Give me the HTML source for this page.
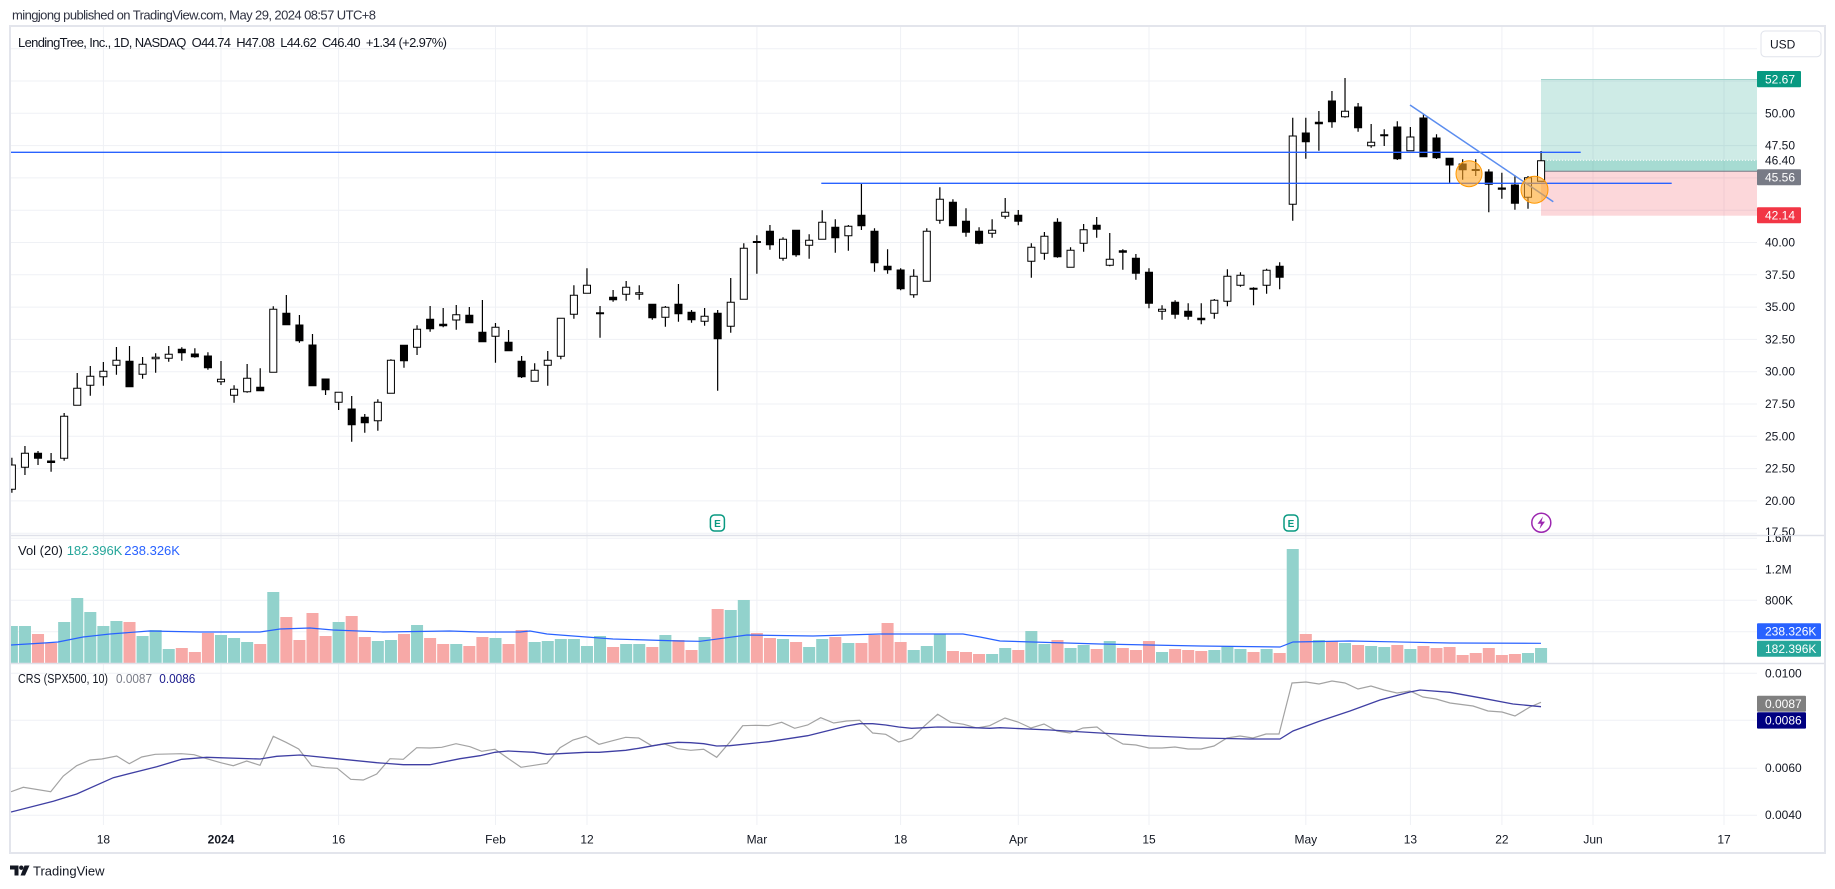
<!DOCTYPE html>
<html><head><meta charset="utf-8"><style>
html,body{margin:0;padding:0;background:#fff}
svg{display:block}
text{font-family:"Liberation Sans",sans-serif}
.ns{vector-effect:non-scaling-stroke}
</style></head><body>
<svg width="1835" height="889" viewBox="0 0 1835 889" xmlns="http://www.w3.org/2000/svg">
<defs>
<clipPath id="cm"><rect x="11" y="27" width="1746" height="508"/></clipPath>
<clipPath id="cv"><rect x="11" y="536" width="1746" height="127"/></clipPath>
<clipPath id="cc"><rect x="11" y="664" width="1746" height="161"/></clipPath>
<clipPath id="pa"><rect x="1757" y="27" width="67" height="508"/></clipPath>
<clipPath id="va"><rect x="1757" y="536" width="67" height="127"/></clipPath>
</defs>
<rect x="0" y="0" width="1835" height="889" fill="#fff"/>

<!-- grid -->
<g stroke="#eff1f5" stroke-width="1">
<path d="M11 48.7H1757M11 81H1757M11 113.3H1757M11 145.6H1757M11 177.9H1757M11 210.2H1757M11 242.5H1757M11 274.8H1757M11 307.1H1757M11 339.4H1757M11 371.7H1757M11 404H1757M11 436.3H1757M11 468.6H1757M11 500.9H1757M11 533.2H1757"/>
<path d="M11 538.3H1757M11 569.3H1757M11 600.3H1757M11 631.7H1757"/>
<path d="M11 673.3H1757M11 720.3H1757M11 768.3H1757M11 815.3H1757"/>
<path d="M103.4 27V825M221 27V825M338.6 27V825M495.5 27V825M587 27V825M756.9 27V825M900.6 27V825M1018.3 27V825M1149 27V825M1305.8 27V825M1410.4 27V825M1501.9 27V825M1593 27V825M1724 27V825"/>
</g>

<!-- position tool -->
<g clip-path="url(#cm)">
<rect x="1541" y="79.3" width="216" height="92" fill="rgba(8,153,129,0.2)"/>
<rect x="1541" y="160.3" width="216" height="11" fill="rgba(8,153,129,0.2)"/>
<rect x="1541" y="171.3" width="216" height="44.4" fill="rgba(242,54,69,0.2)"/>
<path d="M1541 79.5H1757" stroke="#9fd3cb" stroke-width="1"/>
<path d="M1541 171.3H1757" stroke="#787b86" stroke-width="1"/>
<path d="M1541 160.3H1757" stroke="#fff" stroke-width="1" stroke-dasharray="1 2"/>

<!-- candles -->
<g transform="translate(221 0) scale(13.07 1)">
<path class="ns" vector-effect="non-scaling-stroke" fill="none" stroke="#000" stroke-width="1.2" d="M-16 457.7V492.7M-15 446V475M-14 451V465M-13 453V471.7M-12 413V460.7M-11 373V405.3M-10 366V395.7M-9 362V385.7M-8 347V374.7M-7 346V386.7M-6 357V378.7M-5 353.3V372.7M-4 346V361.7M-3 347.3V360.7M-2 348.3V357.7M-1 352.3V369.7M0 361V385M1 385.3V402.7M2 364V392.7M3 368.3V390.7M4 306.3V372.3M5 295V324.7M6 315V342.7M7 334V385.7M8 379V395M9 392.3V410M10 396V441.7M11 414V432.7M12 399.3V430.7M13 359.3V393.3M14 345.3V367.7M15 325.3V355M16 306V331.7M17 308V327.3M18 305V329.7M19 307V322.7M20 300V341.7M21 323V362.7M22 330V350.7M23 356V378M24 363.3V381.3M25 351V385.7M26 318.3V359.3M27 285.3V318.7M28 268.3V293.3M29 306V337.7M30 290V301.7M31 281V300.7M32 285.3V299.7M33 304.3V319.7M34 306V326.7M35 284V321.7M36 310V322.7M37 308V325.7M38 310V390.7M39 278V332.7M40 243.3V299.3M41 235.3V273.7M42 225V249.7M43 237.3V260.7M44 230.3V256.7M45 234.3V258.7M46 210.3V239.3M47 219.3V252.7M48 225V250.7M49 184V230M50 228.3V271.7M51 249.3V273.7M52 268.3V290.3M53 269.3V297.7M54 228.3V281.3M55 187.3V223.7M56 199.3V225.7M57 208.3V236.7M58 227.3V244.3M59 219.3V237.7M60 198V218.7M61 210V225.3M62 243.3V277.7M63 232V259.7M64 218.3V257.7M65 247.3V267.3M66 224V251.7M67 217V237.7M68 233V266.3M69 249.3V269.7M70 254V279.7M71 268.3V308.3M72 305.3V319.7M73 300.3V318.7M74 303.3V319.7M75 303.3V324.3M76 299V318.7M77 269.3V306.3M78 272.3V286.7M79 287.3V305.3M80 268.7V293.7M81 262.3V289.3M82 117.7V220.7M83 117.7V158.7M84 111V150.7M85 91V127.7M86 78V117.7M87 103V131.7M88 124V147.7M89 129.3V146M90 121.3V160M91 127V150.7M92 114V156.7M93 134.3V159M94 158.3V182.7M95 159.3V179.7M96 159.3V176M97 169.3V212.3M98 172.7V198.7M99 175.3V209.7M100 176V208.7M101 151V181.3"/>
<path vector-effect="non-scaling-stroke" fill="#fff" stroke="#000" stroke-width="1" d="M-16.27 465h.54V489.3h-.54zM-15.27 453.3h.54V467.3h-.54zM-12.27 416.3h.54V458.3h-.54zM-11.27 388.3h.54V405.3h-.54zM-10.27 376.3h.54V385.3h-.54zM-9.27 371.3h.54V376.7h-.54zM-8.27 360.3h.54V365.3h-.54zM-6.27 364.3h.54V374.3h-.54zM-5.27 357.3h.54V358.7h-.54zM-4.27 354.3h.54V358.3h-.54zM-.27 379.3h.54V381.7h-.54zM.73 389.3h.54V395.3h-.54zM1.73 378.3h.54V391.7h-.54zM3.73 309.3h.54V372.3h-.54zM8.73 392.3h.54V402.3h-.54zM11.73 402.3h.54V420.7h-.54zM12.73 360.3h.54V393.3h-.54zM14.73 329.3h.54V347.3h-.54zM17.73 314.7h.54V320h-.54zM20.73 327.3h.54V336.3h-.54zM23.73 370.3h.54V381.3h-.54zM24.73 360.3h.54V365.3h-.54zM25.73 318.3h.54V356.3h-.54zM26.73 295.3h.54V314.3h-.54zM27.73 285.3h.54V293.3h-.54zM30.73 287.3h.54V294.3h-.54zM31.73 292.7h.54V294.3h-.54zM33.73 307.3h.54V317.3h-.54zM36.73 316.3h.54V321.3h-.54zM38.73 302.3h.54V326.3h-.54zM39.73 248.3h.54V299.3h-.54zM42.73 239.3h.54V258.3h-.54zM44.73 240.3h.54V245.3h-.54zM45.73 222.3h.54V239.3h-.54zM47.73 226.3h.54V235.7h-.54zM52.73 276.3h.54V294.7h-.54zM53.73 231.3h.54V281.3h-.54zM54.73 199.3h.54V220.3h-.54zM58.73 230.3h.54V233.3h-.54zM59.73 212.3h.54V216.3h-.54zM61.73 247.3h.54V261.3h-.54zM62.73 236.3h.54V253.3h-.54zM64.73 250.3h.54V267.3h-.54zM65.73 229.7h.54V243.3h-.54zM67.73 259.3h.54V265.3h-.54zM71.73 309.3h.54V311.3h-.54zM75.73 300.3h.54V313.3h-.54zM76.73 276.3h.54V301.3h-.54zM77.73 275.3h.54V285.3h-.54zM79.73 270.3h.54V285.3h-.54zM81.73 136h.54V204.3h-.54zM85.73 111.3h.54V116.7h-.54zM87.73 142.3h.54V145.7h-.54zM90.73 137h.54V150.7h-.54zM99.73 177.7h.54V197.3h-.54zM100.73 160.7h.54V181.3h-.54z"/>
<path vector-effect="non-scaling-stroke" fill="#000" stroke="#000" stroke-width="1" d="M-14.27 453.3h.54V458.3h-.54zM-13.27 461h.54V462.5h-.54zM-7.27 361.3h.54V386.7h-.54zM-3.27 349.3h.54V352.7h-.54zM-2.27 354h.54V356.7h-.54zM-1.27 356h.54V367.7h-.54zM2.73 387.3h.54V390.7h-.54zM4.73 313.3h.54V324.7h-.54zM5.73 325h.54V340.7h-.54zM6.73 345h.54V385.7h-.54zM7.73 379h.54V389.7h-.54zM9.73 409h.54V424.7h-.54zM10.73 417.3h.54V422.7h-.54zM13.73 345.3h.54V360.7h-.54zM15.73 319.3h.54V328.7h-.54zM16.73 324.3h.54V325.7h-.54zM18.73 315.3h.54V322.7h-.54zM19.73 332.3h.54V341.7h-.54zM21.73 342.3h.54V350.7h-.54zM22.73 361.3h.54V376.7h-.54zM28.73 312.8h.54V313.8h-.54zM29.73 297.3h.54V299.7h-.54zM32.73 304.3h.54V317.7h-.54zM34.73 304.3h.54V313.7h-.54zM35.73 312.3h.54V319.7h-.54zM37.73 313.3h.54V338.7h-.54zM40.73 241.5h.54V242.5h-.54zM41.73 231.3h.54V244.7h-.54zM43.73 230.3h.54V254.7h-.54zM46.73 227.3h.54V237.7h-.54zM48.73 215.3h.54V225.7h-.54zM49.73 231.3h.54V262.7h-.54zM50.73 266.3h.54V269.7h-.54zM51.73 270h.54V288.7h-.54zM55.73 202.3h.54V225.7h-.54zM56.73 221.3h.54V232.3h-.54zM57.73 231.3h.54V243.3h-.54zM60.73 215.3h.54V221.3h-.54zM63.73 222.3h.54V256.7h-.54zM66.73 225.3h.54V229.3h-.54zM68.73 250.7h.54V252.3h-.54zM69.73 258.3h.54V273.3h-.54zM70.73 272.3h.54V303.3h-.54zM72.73 302.3h.54V314.3h-.54zM73.73 311.3h.54V316.3h-.54zM74.73 318.3h.54V319.7h-.54zM78.73 288.2h.54V289.2h-.54zM80.73 266.3h.54V277.3h-.54zM82.73 133h.54V141.7h-.54zM83.73 122.3h.54V123.7h-.54zM84.73 101h.54V121.7h-.54zM86.73 107h.54V127.7h-.54zM88.73 134.8h.54V135.8h-.54zM89.73 127h.54V158.7h-.54zM91.73 118h.54V156.7h-.54zM92.73 138h.54V157.7h-.54zM93.73 158.3h.54V165h-.54zM94.73 164h.54V169.7h-.54zM95.73 169.5h.54V170.5h-.54zM96.73 172h.54V184.3h-.54zM97.73 188h.54V189.3h-.54zM98.73 185h.54V203.3h-.54z"/>
</g>

<!-- drawings -->
<path d="M10 152.3H1580.7" stroke="#2962ff" stroke-width="1.3"/>
<path d="M821.3 183.3H1671.7" stroke="#2962ff" stroke-width="1.3"/>
<path d="M1410 105L1553.3 201.7" stroke="#5b8def" stroke-width="1.5"/>
<circle cx="1469" cy="173.7" r="13" fill="#ffa726" fill-opacity="0.6" stroke="#ff9800" stroke-width="1"/>
<circle cx="1534.5" cy="189.7" r="13.5" fill="#ffa726" fill-opacity="0.6" stroke="#ff9800" stroke-width="1"/>

<!-- event icons -->
<rect x="710.4" y="515" width="14" height="16" rx="4" fill="#fff" stroke="#089981" stroke-width="1.5"/>
<text x="717.4" y="527" font-size="10" font-weight="bold" fill="#089981" text-anchor="middle">E</text>
<rect x="1284" y="515" width="14" height="16" rx="4" fill="#fff" stroke="#089981" stroke-width="1.5"/>
<text x="1291" y="527" font-size="10" font-weight="bold" fill="#089981" text-anchor="middle">E</text>
<circle cx="1541.3" cy="522.7" r="9.5" fill="#fff" stroke="#9c27b0" stroke-width="1.5"/>
<path d="M1543 516.5L1537.5 523.8H1541L1539.5 529L1545 521.6H1541.5Z" fill="#9c27b0"/>
</g>

<!-- volume -->
<g clip-path="url(#cv)">
<g transform="translate(221 0) scale(13.07 1)">
<path fill="#92d2cc" d="M-16.46 626h.92V663h-.92zM-15.46 626h.92V663h-.92zM-12.46 622h.92V663h-.92zM-11.46 598h.92V663h-.92zM-10.46 612h.92V663h-.92zM-9.46 626h.92V663h-.92zM-8.46 621h.92V663h-.92zM-6.46 636h.92V663h-.92zM-5.46 630h.92V663h-.92zM-4.46 649h.92V663h-.92zM-.46 635h.92V663h-.92zM.54 638h.92V663h-.92zM1.54 642h.92V663h-.92zM3.54 592h.92V663h-.92zM8.54 622h.92V663h-.92zM11.54 641h.92V663h-.92zM12.54 640h.92V663h-.92zM14.54 625h.92V663h-.92zM17.54 644h.92V663h-.92zM20.54 638h.92V663h-.92zM23.54 642h.92V663h-.92zM24.54 641h.92V663h-.92zM25.54 639h.92V663h-.92zM26.54 639h.92V663h-.92zM27.54 646h.92V663h-.92zM28.54 636h.92V663h-.92zM30.54 644h.92V663h-.92zM31.54 644h.92V663h-.92zM33.54 635h.92V663h-.92zM36.54 637h.92V663h-.92zM38.54 610h.92V663h-.92zM39.54 600h.92V663h-.92zM42.54 639h.92V663h-.92zM44.54 647h.92V663h-.92zM45.54 639h.92V663h-.92zM47.54 643h.92V663h-.92zM52.54 650h.92V663h-.92zM53.54 646h.92V663h-.92zM54.54 634h.92V663h-.92zM58.54 654h.92V663h-.92zM59.54 648h.92V663h-.92zM61.54 631h.92V663h-.92zM62.54 644h.92V663h-.92zM64.54 648h.92V663h-.92zM65.54 645h.92V663h-.92zM67.54 641h.92V663h-.92zM71.54 652h.92V663h-.92zM75.54 650h.92V663h-.92zM76.54 646h.92V663h-.92zM77.54 649h.92V663h-.92zM79.54 649h.92V663h-.92zM81.54 549h.92V663h-.92zM83.54 640h.92V663h-.92zM85.54 643h.92V663h-.92zM87.54 646h.92V663h-.92zM88.54 647h.92V663h-.92zM90.54 649h.92V663h-.92zM99.54 653h.92V663h-.92zM100.54 648h.92V663h-.92z"/>
<path fill="#f7a9a7" d="M-14.46 634h.92V663h-.92zM-13.46 643h.92V663h-.92zM-7.46 622h.92V663h-.92zM-3.46 648h.92V663h-.92zM-2.46 652h.92V663h-.92zM-1.46 633h.92V663h-.92zM2.54 644h.92V663h-.92zM4.54 617h.92V663h-.92zM5.54 640h.92V663h-.92zM6.54 613h.92V663h-.92zM7.54 636h.92V663h-.92zM9.54 616h.92V663h-.92zM10.54 637h.92V663h-.92zM13.54 634h.92V663h-.92zM15.54 638h.92V663h-.92zM16.54 644h.92V663h-.92zM18.54 646h.92V663h-.92zM19.54 637h.92V663h-.92zM21.54 644h.92V663h-.92zM22.54 630h.92V663h-.92zM29.54 647h.92V663h-.92zM32.54 647h.92V663h-.92zM34.54 640h.92V663h-.92zM35.54 650h.92V663h-.92zM37.54 609h.92V663h-.92zM40.54 633h.92V663h-.92zM41.54 638h.92V663h-.92zM43.54 642h.92V663h-.92zM46.54 637h.92V663h-.92zM48.54 643h.92V663h-.92zM49.54 635h.92V663h-.92zM50.54 623h.92V663h-.92zM51.54 642h.92V663h-.92zM55.54 651h.92V663h-.92zM56.54 652h.92V663h-.92zM57.54 654h.92V663h-.92zM60.54 650h.92V663h-.92zM63.54 640h.92V663h-.92zM66.54 649h.92V663h-.92zM68.54 648h.92V663h-.92zM69.54 650h.92V663h-.92zM70.54 641h.92V663h-.92zM72.54 649h.92V663h-.92zM73.54 650h.92V663h-.92zM74.54 651h.92V663h-.92zM78.54 652h.92V663h-.92zM80.54 653h.92V663h-.92zM82.54 634h.92V663h-.92zM84.54 641h.92V663h-.92zM86.54 645h.92V663h-.92zM89.54 645h.92V663h-.92zM91.54 646h.92V663h-.92zM92.54 648h.92V663h-.92zM93.54 647h.92V663h-.92zM94.54 655h.92V663h-.92zM95.54 653h.92V663h-.92zM96.54 648h.92V663h-.92zM97.54 655h.92V663h-.92zM98.54 654h.92V663h-.92z"/>
</g>
<polyline fill="none" stroke="#2962ff" stroke-width="1.2" points="11,645 44,643 58,642 83,637 110,634 149,631 200,632 260,632 280,629 310,628 333,630 383,632 450,631 480,632 520,632 530,631 547,634 560,635 613,639 680,641 700,641.3 747,635 813,636 880,634 963,634 980,637 1000,641 1100,644 1200,646 1280,647 1293,642 1350,641 1450,643 1541,643.3"/>
</g>

<!-- CRS -->
<g clip-path="url(#cc)">
<polyline fill="none" stroke="#a3a3a3" stroke-width="1.2" points="11,791.7 23.3,787.3 50.7,791.7 63.3,776 76.7,765.7 90,760 101.7,759 116.7,756 129.3,763.7 141.7,757 155.3,754.3 181.3,753.7 194,754.7 206.7,758.7 220.7,762.7 233.3,765.7 246.7,761 260,765.3 273.3,736.3 286,742.3 298.7,749 311.7,765.7 325,767.7 337.3,768.3 350.7,779.3 363.3,780 376.7,774 390,758.7 403.3,759.3 416.7,747.7 430,748 441.7,747.3 456,743.7 470,746.7 481.7,751.3 495,749.3 521,767.3 547,763.3 560,747.7 573,740 586,736.3 599,744.3 612.7,740.7 625.7,737.3 638.7,738 651.7,745.7 664.7,744 677.7,748.7 690.7,750.3 703.7,749.3 716.7,757.3 729.7,742.3 742.7,725.7 755.7,725.3 768.7,725.7 781.7,722.3 794.7,728.3 807.7,725 820.7,717.7 833.7,723 846.7,721 859.7,720.3 872.7,733 885.7,734.3 898.7,742 911.7,738.3 924.7,725.7 937.7,714.3 950.7,722.3 963.7,724.3 976.7,728 989.7,725.7 1005,718 1018,722 1031,728 1044,724 1057,731 1070,733 1083,728 1097,727 1110,737 1123,744 1136,745 1149,748 1162,748 1175,747 1188,749 1201,749 1214,746 1227,738 1240,736 1253,738 1266,734 1279,734 1292,683 1306,682 1319,684 1332,681 1345,683 1358,689 1371,686 1384,690 1397,693 1410,691 1423,697 1436,699 1450,703 1473,706 1488,711 1502,712 1515,716 1530,707 1541,702.3"/>
<polyline fill="none" stroke="#3f3fa3" stroke-width="1.3" points="11,812 53.3,801.3 76.7,794 113.3,777.7 156.7,766.7 181.7,759.3 206.7,757.3 260,759 276.7,756.3 300,755 336.7,758.7 376.7,762.7 403.3,764.7 430,764.7 460,758.7 480,755.7 495,752.3 508,751 534,752.3 547,754.3 586,752.3 599,752.3 625.7,750.3 638.7,748.3 664.7,743.7 677.7,742.3 690.7,742.7 703.7,743.7 716.7,746 729.7,745.7 755.7,743 768.7,741.7 781.7,739.7 807.7,735.7 833.7,729.3 846.7,726 859.7,723.7 872.7,723.7 885.7,725 898.7,727 911.7,728.3 924.7,727.7 937.7,727 963.7,727.3 989.7,728.3 1000,727.7 1050,730 1100,733 1150,736 1200,738 1250,739 1280,739 1293,731 1320,721 1350,711 1380,700 1410,692 1420,690 1450,692.3 1483,698.3 1513,704 1541,706.7"/>
</g>

<!-- frame & separators -->
<path d="M10 535.5H1825M10 663.5H1825" stroke="#dfe1e9" stroke-width="1.5"/>
<rect x="10" y="26" width="1815" height="827" fill="none" stroke="#e3e5ec" stroke-width="2"/>

<!-- price axis -->
<g font-size="12" fill="#131722">
<g clip-path="url(#pa)">
<text x="1765" y="117.3">50.00</text>
<text x="1765" y="149.6">47.50</text>
<text x="1765" y="164.5">46.40</text>
<text x="1765" y="246.5">40.00</text>
<text x="1765" y="278.8">37.50</text>
<text x="1765" y="311.1">35.00</text>
<text x="1765" y="343.4">32.50</text>
<text x="1765" y="375.7">30.00</text>
<text x="1765" y="408">27.50</text>
<text x="1765" y="440.3">25.00</text>
<text x="1765" y="472.6">22.50</text>
<text x="1765" y="504.9">20.00</text>
<text x="1765" y="536">17.50</text>
</g>
<g clip-path="url(#va)">
<text x="1765" y="541.8">1.6M</text>
<text x="1765" y="573.5">1.2M</text>
<text x="1765" y="604.5">800K</text>
</g>
<text x="1765" y="677.5">0.0100</text>
<text x="1765" y="772.2">0.0060</text>
<text x="1765" y="819.2">0.0040</text>
</g>

<!-- axis boxes -->
<rect x="1757" y="71" width="44" height="16.3" rx="1" fill="#089981"/>
<text x="1765" y="83.4" font-size="12" fill="#fff">52.67</text>
<rect x="1757" y="169.3" width="44" height="16" rx="1" fill="#787b86"/>
<text x="1765" y="181.6" font-size="12" fill="#fff">45.56</text>
<rect x="1757" y="207.3" width="44" height="16" rx="1" fill="#f23645"/>
<text x="1765" y="219.6" font-size="12" fill="#fff">42.14</text>
<rect x="1757" y="623.3" width="64" height="16" rx="1" fill="#2962ff"/>
<text x="1765" y="635.6" font-size="12" fill="#fff">238.326K</text>
<rect x="1757" y="640.7" width="64" height="16" rx="1" fill="#26a69a"/>
<text x="1765" y="653" font-size="12" fill="#fff">182.396K</text>
<rect x="1757" y="695.7" width="49" height="16" rx="1" fill="#808080"/>
<text x="1765" y="708" font-size="12" fill="#fff">0.0087</text>
<rect x="1757" y="712.3" width="49" height="16.3" rx="1" fill="#000080"/>
<text x="1765" y="724.7" font-size="12" fill="#fff">0.0086</text>

<!-- USD button -->
<rect x="1761" y="31" width="60" height="25.7" rx="4" fill="#fff" stroke="#e0e3eb" stroke-width="1"/>
<text x="1770" y="48.3" font-size="12" fill="#131722">USD</text>

<!-- time axis -->
<g font-size="12" fill="#131722" text-anchor="middle">
<text x="103.4" y="843.5">18</text>
<text x="221" y="843.5" font-weight="bold">2024</text>
<text x="338.6" y="843.5">16</text>
<text x="495.5" y="843.5">Feb</text>
<text x="587" y="843.5">12</text>
<text x="756.9" y="843.5">Mar</text>
<text x="900.6" y="843.5">18</text>
<text x="1018.3" y="843.5">Apr</text>
<text x="1149" y="843.5">15</text>
<text x="1305.8" y="843.5">May</text>
<text x="1410.4" y="843.5">13</text>
<text x="1501.9" y="843.5">22</text>
<text x="1593" y="843.5">Jun</text>
<text x="1724" y="843.5">17</text>
</g>

<!-- header & legends -->
<text x="12" y="19.5" font-size="13" fill="#2f3241" textLength="364">mingjong published on TradingView.com, May 29, 2024 08:57 UTC+8</text>
<text x="18" y="47" font-size="13" fill="#131722" textLength="429" xml:space="preserve">LendingTree, Inc., 1D, NASDAQ  O44.74  H47.08  L44.62  C46.40  +1.34 (+2.97%)</text>
<g font-size="13">
<text x="18" y="555" fill="#131722">Vol (20)</text>
<text x="66.7" y="555" fill="#26a69a">182.396K</text>
<text x="124.3" y="555" fill="#2962ff">238.326K</text>
<text x="18" y="683" fill="#131722" textLength="90" lengthAdjust="spacingAndGlyphs">CRS (SPX500, 10)</text>
<text x="116" y="683" fill="#787b86" textLength="36" lengthAdjust="spacingAndGlyphs">0.0087</text>
<text x="159.3" y="683" fill="#1a1a8c" textLength="36" lengthAdjust="spacingAndGlyphs">0.0086</text>
</g>

<!-- TradingView logo -->
<g fill="#131722">
<path d="M10 865.5h8.5v10h-4v-6h-4.5z"/>
<circle cx="21.3" cy="867.7" r="2.2"/>
<path d="M24.5 865.5h5l-4.5 10h-4.5z"/>
</g>
<text x="33" y="875.5" font-size="13" fill="#131722">TradingView</text>
</svg>
</body></html>
